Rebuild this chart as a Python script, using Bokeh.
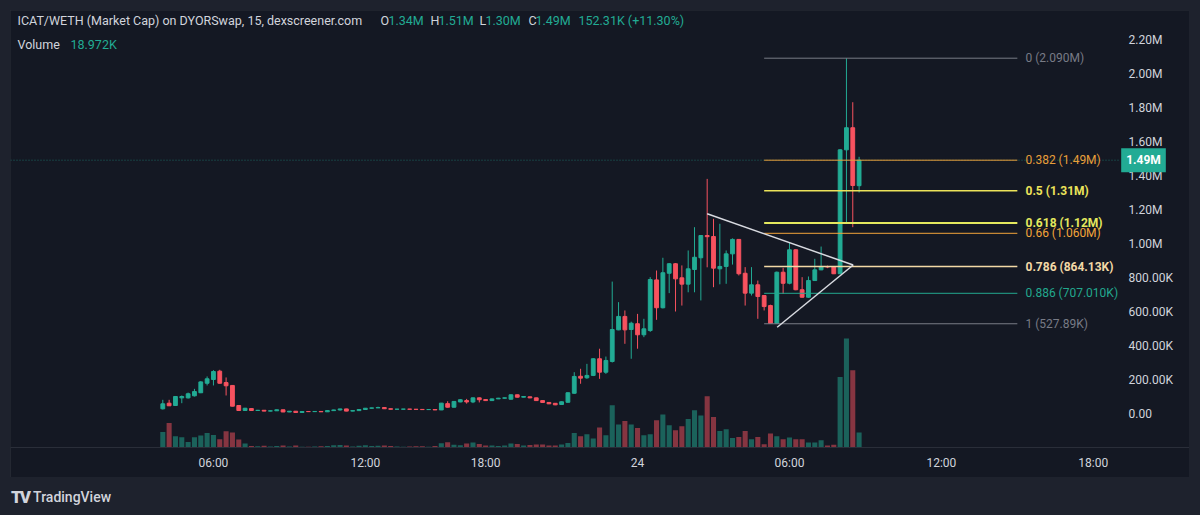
from bokeh.plotting import figure
from bokeh.models import ColumnDataSource, Range1d, FixedTicker, Label, Div
from bokeh.layouts import column
from bokeh.embed import file_html
from bokeh.resources import INLINE
from jinja2 import Template

# ---------------- data (prices / volumes in thousands) ----------------
opens = [27.6, 60.6, 47, 92, 92, 104, 122, 178, 200, 249, 182, 165, 47, 17.6, 29, 17.6, 19, 14, 15.9, 21.8,
         9, 13.5, 6, 11.8, 11, 12, 10, 17, 21, 27, 14, 17, 23.5, 31, 33, 35, 28, 25, 25.5, 26,
         25, 24, 23, 23.5, 21, 58, 37, 68, 76, 68, 92, 82, 76, 86, 90, 84, 110, 96, 98, 92,
         76, 65, 60, 53, 66, 119, 219, 210, 224, 322, 243, 306, 492, 571, 494, 528, 463, 488, 786, 622,
         825, 881, 798, 761, 847, 916, 1047, 1041, 851, 865, 939, 1024, 825, 708, 757, 694, 635, 530, 831, 766,
         963, 728, 684, 782, 845, 864, 862, 822, 1551, 1681, 1340]
highs = [80.6, 80.6, 103, 106, 123, 145, 190, 218, 255, 257, 212, 167, 48, 33, 30, 21, 19.5, 17, 23, 22.5,
         14, 14, 12.5, 12.5, 12.8, 12.5, 17.5, 22, 28, 28, 18, 24, 32, 34, 40, 36, 29, 26, 26.5, 26.5,
         25.5, 24.5, 24, 24, 62, 72, 73, 85, 86, 94, 94, 84, 88, 92, 93, 112, 111, 102, 99, 93,
         77, 66, 61, 71, 124, 243, 263, 292, 325, 381, 335, 776, 655, 606, 540, 586, 557, 802, 841, 916,
         885, 885, 871, 959, 1096, 1050, 1380, 1145, 1116, 959, 1030, 1026, 861, 861, 782, 696, 640, 835, 857, 1008,
         966, 802, 806, 910, 982, 870, 866, 1555, 2090, 1831, 1510]
lows = [23.5, 44, 45, 60.6, 88, 100, 120, 165, 165, 176, 106, 42, 15, 16, 16, 16, 13, 13, 15, 8,
        8, 5, 5.5, 10, 10, 9, 9.5, 16, 17, 13, 13, 16, 22, 30, 32, 27, 24, 24.5, 25, 24.5,
        23.5, 22.5, 22.5, 20, 20, 35, 36, 66, 58, 61, 65, 74, 75, 85, 88, 82, 94, 95, 90, 75,
        63, 55, 49, 52, 64, 117, 175, 204, 220, 204, 233, 300, 490, 410, 322, 381, 449, 480, 551, 618,
        708, 600, 635, 713, 713, 665, 860, 743, 760, 763, 876, 812, 635, 694, 557, 606, 527.89, 529, 704, 760,
        725, 682, 680, 780, 843, 855, 820, 820, 1125, 1096, 1300]
closes = [57, 45.3, 100, 100, 116, 129, 186, 204, 247, 178, 163, 43, 17.6, 31, 17.6, 19, 14, 15.9, 21.8, 9,
          13.5, 6, 11.8, 11, 12, 10, 17, 21, 27, 14, 17, 23.5, 31, 33, 35, 28, 25, 25.5, 26, 25,
          24, 23, 23.5, 21, 61, 37, 71, 81, 68, 92, 81, 76, 86, 90, 92, 110, 96, 100, 92, 76,
          65, 57, 51, 69, 122, 218, 208, 224, 322, 243, 312, 494, 571, 492, 531, 463, 498, 788, 622, 828,
          881, 792, 761, 851, 919, 1047, 1040, 855, 865, 939, 1024, 822, 708, 757, 688, 629, 530, 831, 766, 963,
          728, 684, 782, 845, 865, 862, 822, 1551, 1681, 1341, 1490]
volumes = [19.7, 31.1, 14.3, 13.0, 7.1, 13.0, 15.2, 18.5, 15.9, 10.5, 20.6, 19.0, 10.1, 5.1, 2.0, 1.5, 2.2, 1.3, 1.8, 2.5,
           1.2, 2.4, 1.1, 1.0, 1.3, 1.6, 2.0, 2.8, 3.2, 2.6, 1.4, 2.2, 3.0, 1.8, 2.3, 2.6, 2.0, 1.2, 1.0, 1.4,
           1.7, 1.5, 1.1, 1.9, 5.5, 6.5, 3.5, 2.8, 5.0, 6.3, 4.5, 2.6, 2.5, 1.9, 2.5, 5.1, 4.4, 2.5, 3.2, 3.8,
           3.8, 2.5, 2.5, 3.8, 5.7, 18.5, 14.3, 16.8, 11.4, 25.3, 15.6, 53.5, 29.1, 33.6, 29.1, 24.8, 15.6, 16.8, 34.5, 41.7,
           28.2, 21.9, 26.9, 36.2, 47.2, 40.5, 64.9, 38.7, 21.0, 23.1, 12.1, 13.4, 21.0, 10.5, 13.4, 4.2, 17.7, 14.3, 10.5, 12.7,
           10.5, 10.5, 6.3, 6.3, 9.2, 2.5, 3.4, 89.3, 137.9, 97.8, 18.972]

time_tick_bars = [8, 32, 51, 75, 99, 123, 147]
time_tick_labels = ["06:00", "12:00", "18:00", "24", "06:00", "12:00", "18:00"]
price_ticks = [0, 200, 400, 600, 800, 1000, 1200, 1400, 1600, 1800, 2000, 2200]
price_tick_labels = ["0.00", "200.00K", "400.00K", "600.00K", "800.00K", "1.00M", "1.20M",
                     "1.40M", "1.60M", "1.80M", "2.00M", "2.20M"]

fib_levels = [0, 0.382, 0.5, 0.618, 0.66, 0.786, 0.886, 1]
fib_values = [2090, 1490, 1310, 1120, 1060, 864.13, 707.01, 527.89]
fib_texts = ["0 (2.090M)", "0.382 (1.49M)", "0.5 (1.31M)", "0.618 (1.12M)", "0.66 (1.060M)",
             "0.786 (864.13K)", "0.886 (707.010K)", "1 (527.89K)"]
fib_colors = ["#787b86", "#e89f3a", "#ece35a", "#e4e85e", "#f2a43a", "#f3d9a6", "#22a88e", "#787b86"]
fib_widths = [1, 1, 1.5, 2, 1, 1.5, 1, 1]
fib_bold = [False, False, True, True, False, True, False, False]
fib_start_bar, fib_end_bar = 95, 135

tri_upper_x = [86, 109.07]
tri_upper_y = [1174.7, 873.5]
tri_lower_x = [97.06, 109.07]
tri_lower_y = [507.6, 873.5]

last_price = 1490
last_price_label = "1.49M"

header_line1 = [("ICAT/WETH (Market Cap) on DYORSwap, 15, dexscreener.com", "light"),
                ("O", "light"), ("1.34M", "green"), ("H", "light"), ("1.51M", "green"),
                ("L", "light"), ("1.30M", "green"), ("C", "light"), ("1.49M", "green"),
                ("152.31K (+11.30%)", "green")]
header_line2 = [("Volume", "light"), ("18.972K", "green")]

# ---------------- styling / layout ----------------
BG = "#141823"
LIGHT = "#d1d4dc"
UP = "#22ab94"
DOWN = "#f7525f"
FONT = "Roboto"

# pixel geometry of the reference (image coords) -> data conversions
X_PX0, X_STEP = 162.3, 6.33
Y_PX0, Y_PX_PER_K = 413.0, 0.170
FR_L, FR_R, FR_T, FR_B = 10, 1189, 10, 447      # frame spans the whole chart box width
SCALE_X = 1118                                   # left edge of the price scale


def px_x(px):
    return (px - X_PX0) / X_STEP


def px_y(py):
    return (Y_PX0 - py) / Y_PX_PER_K


n = len(opens)
bars = list(range(n))
up = [c >= o for o, c in zip(opens, closes)]
src = ColumnDataSource(dict(
    x=bars, o=opens, h=highs, l=lows, c=closes, v=volumes,
    top=[max(o, c) for o, c in zip(opens, closes)],
    bot=[min(o, c) for o, c in zip(opens, closes)],
    color=[UP if u else DOWN for u in up],
))

p = figure(width=1179, height=467,
           x_range=Range1d(px_x(FR_L), px_x(FR_R)),
           y_range=Range1d(px_y(FR_B), px_y(FR_T)),
           y_axis_location="right", output_backend="svg", toolbar_location=None,
           min_border_left=0, min_border_top=0, min_border_right=0, min_border_bottom=30,
           background_fill_color=BG, border_fill_color=BG, outline_line_color=None)
p.margin = (10, 0, 0, 10)
p.styles = {"outline": "1px solid #2a2e39", "outline-offset": "-1px"}
p.grid.visible = False

frame_h = FR_B - FR_T
vol_k_per_px = 1.265
p.extra_y_ranges = {"vol": Range1d(0, frame_h * vol_k_per_px)}

# volume
p.vbar(x="x", top="v", bottom=0, width=0.8, source=src, y_range_name="vol",
       fill_color="color", fill_alpha=0.5, line_color=None)

# last-price dotted line (up to the price scale)
p.segment(x0=[px_x(FR_L)], y0=[last_price], x1=[px_x(SCALE_X)], y1=[last_price],
          line_color=UP, line_alpha=0.55, line_dash="1 2", line_width=1)

# candles
p.segment(x0="x", y0="l", x1="x", y1="h", source=src, line_color="color", line_width=1)
p.vbar(x="x", top="top", bottom="bot", width=0.6, source=src,
       fill_color="color", line_color="color", line_width=1)

# fib retracement
fsrc = ColumnDataSource(dict(x0=[fib_start_bar] * len(fib_values), x1=[fib_end_bar] * len(fib_values),
                             y=fib_values, color=fib_colors, w=fib_widths))
p.segment(x0="x0", y0="y", x1="x1", y1="y", source=fsrc, line_color="color", line_width="w")
for val, txt, col, b in zip(fib_values, fib_texts, fib_colors, fib_bold):
    p.add_layout(Label(x=px_x(1025), y=val, text=txt, text_color=col, text_font=FONT,
                       text_font_size="12px", text_baseline="middle", text_align="left",
                       text_font_style="bold" if b else "normal"))

# triangle
p.multi_line(xs=[tri_upper_x, tri_lower_x], ys=[tri_upper_y, tri_lower_y],
             line_color="#d8dae0", line_width=1.5)

# axes
p.yaxis.ticker = FixedTicker(ticks=price_ticks)
p.yaxis.major_label_overrides = {t: l for t, l in zip(price_ticks, price_tick_labels)}
p.yaxis.fixed_location = px_x(SCALE_X)
p.xaxis.ticker = FixedTicker(ticks=time_tick_bars)
p.xaxis.major_label_overrides = {t: l for t, l in zip(time_tick_bars, time_tick_labels)}
for ax in (p.xaxis, p.yaxis):
    ax.major_label_text_color = LIGHT
    ax.major_label_text_font = FONT
    ax.major_label_text_font_size = "12px"
    ax.major_tick_line_color = None
    ax.minor_tick_line_color = None
    ax.major_tick_out = 0
    ax.major_tick_in = 0
p.yaxis.axis_line_color = None
p.yaxis.major_label_standoff = 10
p.xaxis.axis_line_color = "#2a2e39"
p.xaxis.major_label_standoff = 8

# last price tag on the price scale
p.add_layout(Label(x=px_x(1143), y=last_price, text=last_price_label, text_color="#ffffff",
                   text_font=FONT, text_font_size="12px", text_font_style="bold",
                   text_align="center", text_baseline="middle",
                   background_fill_color=UP, padding=5))

# header legend texts
x_line1 = [17, 380, 388, 430, 438, 479, 485, 528, 535, 578]
x_line2 = [17, 70]
for (txt, kind), xp in zip(header_line1, x_line1):
    p.add_layout(Label(x=px_x(xp), y=px_y(20), text=txt, text_color=LIGHT if kind == "light" else UP,
                       text_font=FONT, text_font_size="12.5px", text_baseline="middle"))
for (txt, kind), xp in zip(header_line2, x_line2):
    p.add_layout(Label(x=px_x(xp), y=px_y(44), text=txt, text_color=LIGHT if kind == "light" else UP,
                       text_font=FONT, text_font_size="12.5px", text_baseline="middle"))

logo = Div(text="<div style='display:flex;align-items:center;gap:4px;color:#d1d4dc;font-family:Roboto;'>"
                "<span style='font-weight:900;font-size:17px;letter-spacing:-2px;'>TV</span>"
                "<span style='font-size:14px;font-weight:500;'>TradingView</span></div>",
           width=200, height=20, margin=(8, 0, 0, 11))

layout = column(p, logo, spacing=0)

page_template = Template("""{% extends base %}
{% block preamble %}<style>html, body { background-color: #1e222d; }</style>{% endblock %}""")

open("out.html", "w").write(file_html(layout, INLINE, template=page_template))
